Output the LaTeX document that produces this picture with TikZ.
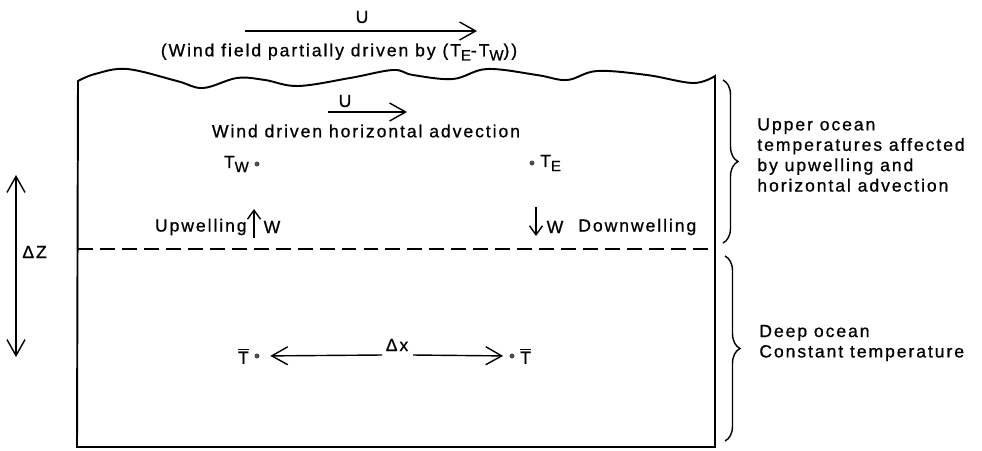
\documentclass[tikz,border=0pt]{standalone}
\usepackage{fontspec}
\newfontfamily\oceanfont{Liberation Sans}[LetterSpace=11,FakeBold=0.8]
\usetikzlibrary{arrows.meta,decorations.pathreplacing,positioning}

\newcommand\lowsub[1]{\raisebox{-0.45ex}{\fontsize{8.5}{8.5}\selectfont #1}}

\tikzset{
    windtip/.tip={Straight Barb[length=3.2mm,width=3.6mm]},
    flowtip/.tip={Straight Barb[length=1.8mm,width=2.6mm]}
}

\begin{document}
\begin{tikzpicture}[
                x=0.02cm, y=-0.02cm,
                every node/.style={font=\oceanfont\fontsize{10}{11.6}\selectfont, inner sep=0pt},
                wind/.style={line width=0.8pt, -windtip},
                flow/.style={line width=0.8pt, -flowtip},
                dot/.style={circle, fill=black!70, minimum size=1mm},
                bracer/.style={line width=0.8pt, decorate, decoration={brace, amplitude=3mm}},
                side/.style={align=left, anchor=west}
            ]

            \useasboundingbox (0,0) rectangle (982,450);

            % ocean box with wavy surface
            \draw[line width=1.1pt] plot[smooth, tension=0.6] coordinates {(78,81) (95,74) (127,69) (177,81) (203,88) (237,78) (265,80) (298,86) (350,78) (393,70) (413,75) (453,79) (487,69) (537,75) (567,80) (597,71) (647,75) (693,83) (715,76)}
                -- (715,447) -- (77,447) -- cycle;

            % wind above the surface
            \coordinate (windS) at (245,31);
            \coordinate (windE) at (477,31);
            \draw[wind] (windS) -- (windE);
            \node (windU) at (362,17) {U};
            \node (windtxt) at (339,52) {(Wind field partially driven by (T\lowsub{E}-T\lowsub{W}))};

            % upper ocean
            \coordinate (advS) at (328,112);
            \coordinate (advE) at (407,112);
            \draw[wind] (advS) -- (advE);
            \node (advU) at (345,101) {U};
            \node (advtxt) at (366,131) {Wind driven horizontal advection};

            \node[dot] (tw) at (257,164) {};
            \node[left=1mm of tw] (twl) {T\lowsub{W}};
            \node[dot] (te) at (532,163) {};
            \node[right=1mm of te] (tel) {T\lowsub{E}};

            \coordinate (upB) at (254,238);
            \coordinate (upT) at (254,209);
            \draw[flow] (upB) -- (upT);
            \node[anchor=east] (upw) at (247,227) {Upwelling};
            \node (upW) at (272,227) {W};

            \coordinate (dnT) at (536,207);
            \coordinate (dnB) at (536,236);
            \draw[flow] (dnT) -- (dnB);
            \node (dnW) at (555,227) {W};
            \node[anchor=west] (dnw) at (578,227) {Downwelling};

            \coordinate (thermW) at (78,249);
            \coordinate (thermE) at (715,249);
            \draw[line width=1pt, dash pattern=on 8.5pt off 4pt] (thermW) -- (thermE);

            % layer depth
            \coordinate (dzT) at (16,175);
            \coordinate (dzB) at (16,357);
            \draw[line width=0.8pt, windtip-windtip] (dzT) -- (dzB);
            \node[anchor=west] (dz) at (22,252) {ΔZ};

            % deep ocean
            \node[dot] (tbW) at (257,356) {};
            \node[left=1mm of tbW] (tbWl) {$\overline{\mbox{T}}$};
            \node[dot] (tbE) at (512,356) {};
            \node[right=1mm of tbE] (tbEl) {$\overline{\mbox{T}}$};
            \node (dx) at (397,345) {Δx};
            \coordinate (dxL) at (382,355);
            \coordinate (dxR) at (413,355);
            \draw[wind, shorten >=2.1mm] (dxL) -- (tbW);
            \draw[wind, shorten >=1.2mm] (dxR) -- (tbE);

            % layer labels
            \coordinate (ubT) at (723,80);
            \coordinate (ubB) at (723,243);
            \draw[bracer] (ubT) -- (ubB);
            \node[side] (upper) at (757,155) {Upper ocean\\temperatures affected\\by upwelling and\\horizontal advection};

            \coordinate (lbT) at (725,256);
            \coordinate (lbB) at (725,441);
            \draw[bracer] (lbT) -- (lbB);
            \node[side] (deep) at (759,343) {Deep ocean\\Constant temperature};

        \end{tikzpicture}
\end{document}
